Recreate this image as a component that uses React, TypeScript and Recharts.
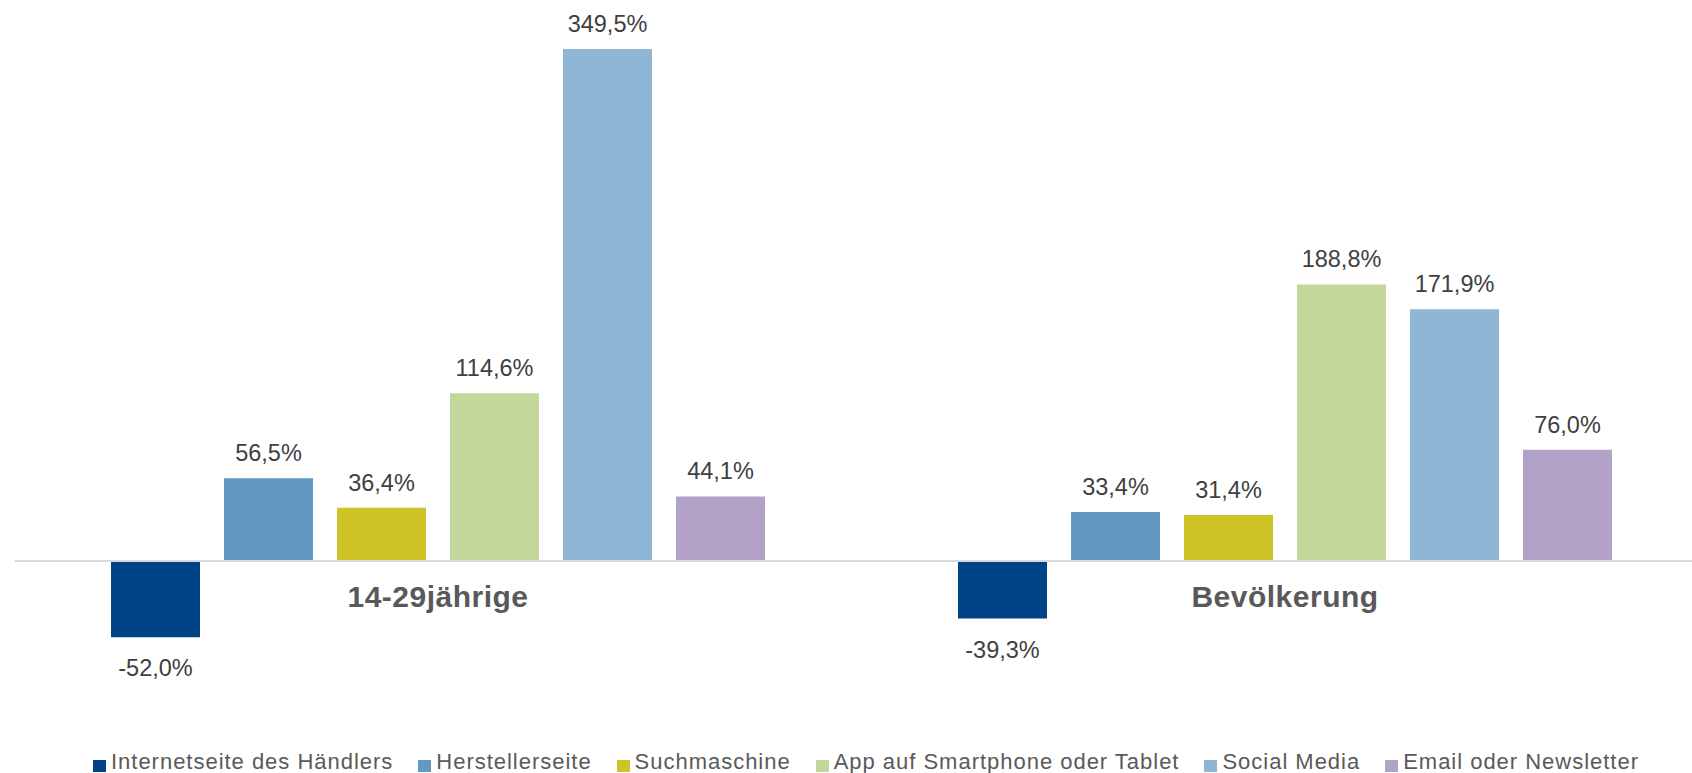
import React from 'react';
import { BarChart, Bar, XAxis, YAxis, ReferenceLine, LabelList, Legend } from 'recharts';

// ---- data ----
const CATEGORIES = ['14-29jährige', 'Bevölkerung'];
const INTERNETSEITE = [-52.0, -39.3];
const HERSTELLERSEITE = [56.5, 33.4];
const SUCHMASCHINE = [36.4, 31.4];
const APP = [114.6, 188.8];
const SOCIAL_MEDIA = [349.5, 171.9];
const EMAIL = [44.1, 76.0];

const SERIES_NAMES = [
  'Internetseite des Händlers',
  'Herstellerseite',
  'Suchmaschine',
  'App auf Smartphone oder Tablet',
  'Social Media',
  'Email oder Newsletter',
];
const SERIES_VALUES = [INTERNETSEITE, HERSTELLERSEITE, SUCHMASCHINE, APP, SOCIAL_MEDIA, EMAIL];
const SERIES_COLORS = ['#004386', '#6199C1', '#CEC426', '#C4D79B', '#8FB6D4', '#B3A2C7'];

const data = CATEGORIES.map((category, i) => {
  const row: Record<string, string | number> = { category };
  SERIES_VALUES.forEach((vals, s) => {
    row[`s${s}`] = vals[i];
  });
  return row;
});

// ---- layout ----
const CHART_W = 1712;
const CHART_H = 773;
const Y_MIN = -100;
const Y_MAX = 370;
const X_AXIS_H = 30;
const PLOT_BOTTOM_GAP = 65.45;
const MARGIN = { top: 19, right: 3.5, left: 14.5, bottom: PLOT_BOTTOM_GAP - X_AXIS_H };
const PLOT_H = CHART_H - MARGIN.top - PLOT_BOTTOM_GAP;
const ZERO_FROM_BOTTOM = (PLOT_H * (0 - Y_MIN)) / (Y_MAX - Y_MIN);
const CAT_LABEL_BELOW_ZERO = 46;

const FONT = '"Liberation Sans", Arial, Helvetica, sans-serif';

const fmt = (v: number) => v.toFixed(1).replace('.', ',') + '%';

const ValueLabel = (props: any) => {
  const x = Number(props.x);
  const y = Number(props.y);
  const w = Number(props.width);
  const h = Number(props.height);
  const v = Number(props.value);
  const top = Math.min(y, y + h);
  const bottom = Math.max(y, y + h);
  const ty = v >= 0 ? top - 17 : bottom + 39;
  return (
    <text
      x={x + w / 2}
      y={ty}
      textAnchor="middle"
      fill="#404040"
      style={{ fontFamily: FONT, fontSize: 23.5 }}
    >
      {fmt(v)}
    </text>
  );
};

const CategoryTick = (props: any) => {
  const { x, y, payload } = props;
  return (
    <text
      x={x}
      y={Number(y) - ZERO_FROM_BOTTOM + CAT_LABEL_BELOW_ZERO}
      textAnchor="middle"
      fill="#595959"
      style={{ fontFamily: FONT, fontSize: 30, fontWeight: 'bold', letterSpacing: '0.5px' }}
    >
      {payload.value}
    </text>
  );
};

const LegendContent = () => (
  <div
    style={{
      display: 'flex',
      flexDirection: 'row',
      alignItems: 'flex-start',
      whiteSpace: 'nowrap',
      fontFamily: FONT,
      fontSize: 22,
      letterSpacing: '0.98px',
      lineHeight: '28px',
      color: '#595959',
    }}
  >
    {SERIES_NAMES.map((name, i) => (
      <div
        key={name}
        style={{ display: 'flex', alignItems: 'flex-start', marginRight: i < SERIES_NAMES.length - 1 ? 25 : 0 }}
      >
        <span
          style={{
            display: 'inline-block',
            width: 13,
            height: 12,
            marginTop: 12,
            marginRight: 5,
            background: SERIES_COLORS[i],
          }}
        />
        <span>{name}</span>
      </div>
    ))}
  </div>
);

export default function App() {
  return (
    <div
      style={{
        position: 'absolute',
        left: 0,
        top: 0,
        width: 1692,
        height: 773,
        overflow: 'hidden',
        background: '#ffffff',
      }}
    >
      <BarChart
        width={CHART_W}
        height={CHART_H}
        data={data}
        margin={MARGIN}
        barCategoryGap={96.5}
        barGap={24}
      >
        <XAxis
          dataKey="category"
          height={X_AXIS_H}
          axisLine={false}
          tickLine={false}
          tickSize={0}
          tickMargin={0}
          interval={0}
          tick={<CategoryTick />}
        />
        <YAxis hide width={0} domain={[Y_MIN, Y_MAX]} allowDataOverflow type="number" />
        {SERIES_NAMES.map((name, s) => (
          <Bar key={name} dataKey={`s${s}`} name={name} fill={SERIES_COLORS[s]} isAnimationActive={false}>
            <LabelList dataKey={`s${s}`} content={<ValueLabel />} />
          </Bar>
        ))}
        <ReferenceLine y={0} stroke="#d9d9d9" strokeWidth={2} ifOverflow="extendDomain" />
        <Legend
          layout="horizontal"
          verticalAlign="middle"
          align="center"
          content={<LegendContent />}
          wrapperStyle={{ position: 'absolute', left: 93, top: 748, width: 'auto', height: 28 }}
        />
      </BarChart>
    </div>
  );
}
